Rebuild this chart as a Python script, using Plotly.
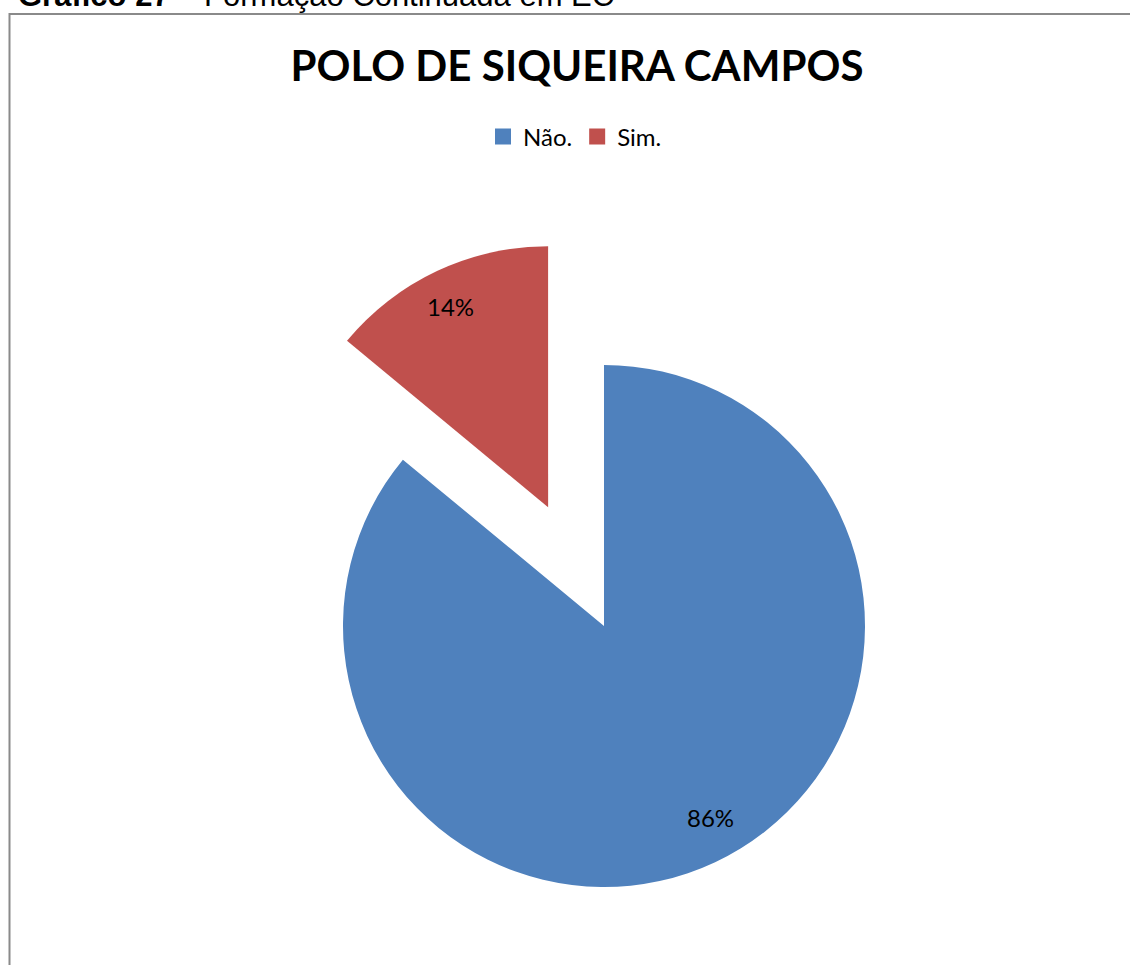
import math
import plotly.graph_objects as go

# Survey answers and their shares
labels = ["Não.", "Sim."]
values = [86, 14]
colors = ["#4F81BD", "#C0504D"]
pulled = "Sim."          # slice drawn exploded away from the pie
pull_fraction = 0.503

W, H = 1130, 965
cx, cy, r = 604.0, 626.0, 261.0   # pie centre and radius in pixels
label_radius = 0.85               # where the percentage labels sit
label_nudge = [(12, -9), (-3, 0)] # small per-label shifts in pixels
label_font = dict(family="Lato", size=24, color="black")


def px_x(x):
    return x / W


def px_y(y):
    return 1 - y / H


total = sum(values)
fig = go.Figure()

# Angles of every slice, clockwise from 12 o'clock
start = 0.0
annotations = []
for lab, val, col, nudge in zip(labels, values, colors, label_nudge):
    span = val / total * 360.0
    mid = math.radians(start + span / 2)
    ox, oy = cx, cy
    if lab == pulled:
        ox = cx + pull_fraction * r * math.sin(mid)
        oy = cy - pull_fraction * r * math.cos(mid)
    slice_colors = [c if l == lab else "rgba(0,0,0,0)" for l, c in zip(labels, colors)]
    fig.add_trace(go.Pie(
        labels=labels,
        values=values,
        sort=False,
        direction="clockwise",
        rotation=0,
        marker=dict(colors=slice_colors, line=dict(width=0)),
        textinfo="none",
        hoverinfo="skip",
        showlegend=False,
        domain=dict(x=[px_x(ox - r), px_x(ox + r)],
                    y=[px_y(oy + r), px_y(oy - r)]),
    ))
    lx = ox + label_radius * r * math.sin(mid) + nudge[0]
    ly = oy - label_radius * r * math.cos(mid) + nudge[1]
    annotations.append(dict(
        x=px_x(lx), y=px_y(ly), xref="paper", yref="paper",
        text=f"{round(val / total * 100)}%", showarrow=False,
        font=label_font, xanchor="center", yanchor="middle",
    ))
    start += span

# Legend entries
for lab, col in zip(labels, colors):
    fig.add_trace(go.Scatter(
        x=[None], y=[None], mode="markers", name=lab,
        marker=dict(symbol="square", size=16, color=col),
        hoverinfo="skip",
    ))

# Figure caption above the chart frame
annotations.append(dict(
    x=px_x(16), y=px_y(15.5), xref="paper", yref="paper",
    text="<b>Gráfico 27</b> – Formação Continuada em EC",
    showarrow=False, xanchor="left", yanchor="bottom",
    font=dict(family="Liberation Sans", size=31, color="black"),
))

fig.update_layout(
    width=W, height=H,
    margin=dict(l=0, r=0, t=0, b=0),
    paper_bgcolor="white",
    plot_bgcolor="white",
    title=dict(
        text="<b>POLO DE SIQUEIRA CAMPOS</b>",
        x=577 / W, xanchor="center",
        y=1 - 66 / H, yanchor="middle", yref="container",
        font=dict(family="Lato", size=42, color="black"),
    ),
    legend=dict(
        orientation="h", x=575 / W, xanchor="center",
        y=px_y(137), yanchor="middle",
        font=label_font, bgcolor="rgba(0,0,0,0)",
        itemwidth=30,
    ),
    xaxis=dict(visible=False),
    yaxis=dict(visible=False),
    annotations=annotations,
    shapes=[dict(
        type="rect", xref="paper", yref="paper",
        x0=px_x(9.5), x1=1.05, y0=px_y(14), y1=-0.05,
        line=dict(color="#8a8a8a", width=2),
        fillcolor="rgba(0,0,0,0)", layer="below",
    )],
)

fig.write_html("out.html")
